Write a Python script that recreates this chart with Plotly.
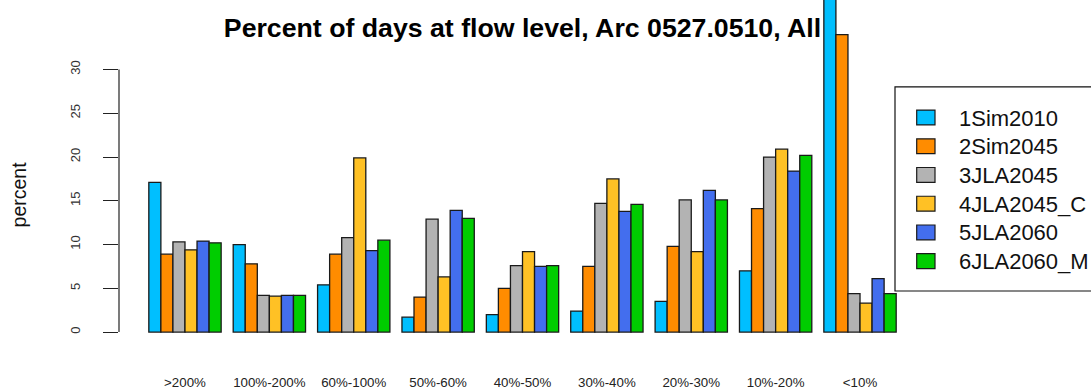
import plotly.graph_objects as go

# Flow-level bins (x categories)
flow_levels = [">200%", "100%-200%", "60%-100%", "50%-60%", "40%-50%",
               "30%-40%", "20%-30%", "10%-20%", "<10%"]

# Percent of days in each flow bin, per scenario
sim2010 = [17.1, 10.0, 5.4, 1.7, 2.0, 2.4, 3.5, 7.0, 50.9]
sim2045 = [8.9, 7.8, 8.9, 4.0, 5.0, 7.5, 9.8, 14.1, 34.0]
jla2045 = [10.3, 4.2, 10.8, 12.9, 7.6, 14.7, 15.1, 20.0, 4.4]
jla2045_c = [9.4, 4.1, 19.9, 6.3, 9.2, 17.5, 9.2, 20.9, 3.3]
jla2060 = [10.4, 4.2, 9.3, 13.9, 7.5, 13.8, 16.2, 18.4, 6.1]
jla2060_m = [10.2, 4.2, 10.5, 13.0, 7.6, 14.6, 15.1, 20.2, 4.4]

series_names = ["1Sim2010", "2Sim2045", "3JLA2045", "4JLA2045_C", "5JLA2060", "6JLA2060_M"]
series_values = [sim2010, sim2045, jla2045, jla2045_c, jla2060, jla2060_m]
series_colors = ["#00BFFF", "#FF8C00", "#B3B3B3", "#FFC125", "#436EEE", "#00CD00"]

y_ticks = [0, 5, 10, 15, 20, 25, 30]

W, H = 1091, 390
# plot-area pixel bounds
PL, PR, PT, PB = 119, 926, 0, 345


def px(x):
    return (x - PL) / (PR - PL)


def py(y):
    return (PB - y) / (PB - PT)


FONT = "Liberation Sans, Arial, Helvetica, sans-serif"
EDGE = "#1a1a1a"

fig = go.Figure()
for name, vals, col in zip(series_names, series_values, series_colors):
    fig.add_trace(go.Bar(
        x=flow_levels, y=vals, name=name,
        marker=dict(color=col, line=dict(color=EDGE, width=1.3)),
        showlegend=False,
    ))

shapes = []
annotations = []

# y axis line spanning the tick range only
shapes.append(dict(type="line", xref="paper", yref="y",
                   x0=0, x1=0, y0=y_ticks[0], y1=y_ticks[-1],
                   line=dict(color="#222222", width=1.2)))

# legend box (runs past the right edge)
shapes.append(dict(type="rect", xref="paper", yref="paper",
                   x0=px(895), x1=px(1110), y0=py(87.3), y1=py(292.7),
                   line=dict(color="#111111", width=1.2), fillcolor="white",
                   layer="above"))
row0, step = 118.2, 28.9
for i, (name, col) in enumerate(zip(series_names, series_colors)):
    cy = row0 + i * step
    shapes.append(dict(type="rect", xref="paper", yref="paper",
                       x0=px(916.7), x1=px(935), y0=py(cy - 7.5), y1=py(cy + 7.5),
                       line=dict(color=EDGE, width=1.2), fillcolor=col, layer="above"))
    annotations.append(dict(text=name, xref="paper", yref="paper",
                            x=px(957), y=py(cy + 0.5), xanchor="left", yanchor="middle",
                            showarrow=False, font=dict(family=FONT, size=22, color="#111111")))

# y axis title
annotations.append(dict(text="percent", xref="paper", yref="paper",
                        x=px(18.8), y=py(195.8), xanchor="center", yanchor="middle",
                        textangle=-90, showarrow=False,
                        font=dict(family=FONT, size=19.5, color="#111111")))

fig.update_layout(
    width=W, height=H,
    margin=dict(l=PL, r=W - PR, t=PT, b=H - PB, pad=0),
    paper_bgcolor="white", plot_bgcolor="white",
    barmode="group", bargap=1 / 7, bargroupgap=0,
    title=dict(text="<b>Percent of days at flow level, Arc 0527.0510, All</b>",
               x=0.5, xref="paper", xanchor="center",
               y=1 - 27.7 / H, yref="container", yanchor="middle",
               font=dict(family=FONT, size=26.7, color="#000000")),
    xaxis=dict(type="category", range=[-0.782, 8.782],
               showline=False, showgrid=False, zeroline=False, ticks="",
               tickfont=dict(family=FONT, size=13.3, color="#222222"),
               ticklabelstandoff=30),
    yaxis=dict(range=[-1.25, 37.95], tickvals=y_ticks,
               showline=False, showgrid=False, zeroline=False,
               ticks="outside", ticklen=15, tickwidth=1.2, tickcolor="#222222",
               tickangle=-90, ticklabelstandoff=18,
               tickfont=dict(family=FONT, size=13, color="#333333")),
    shapes=shapes,
    annotations=annotations,
)

fig.write_html("out.html")
